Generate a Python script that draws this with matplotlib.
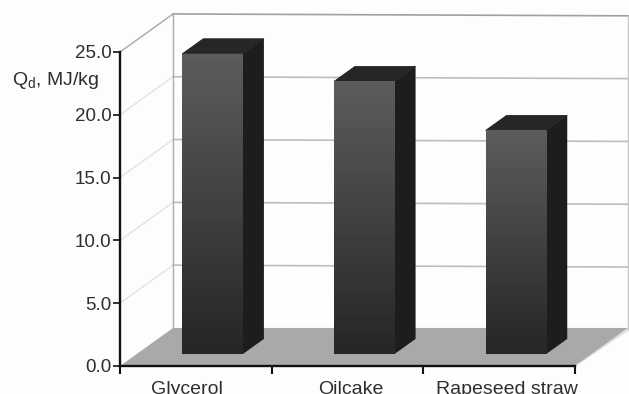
import numpy as np
import matplotlib
matplotlib.use("Agg")
import matplotlib.pyplot as plt
from matplotlib.patches import Polygon

# Values
categories = ["Glycerol", "Oilcake", "Rapeseed straw"]
values = [23.9, 21.7, 17.8]
y_ticks = [0, 5, 10, 15, 20, 25]
y_tick_labels = ["0.0", "5.0", "10.0", "15.0", "20.0", "25.0"]

# Fake 3D set-up, in data units
wall_dx = 0.35
wall_dy = 3.03
bar_shift = 0.316
bar_depth = 0.395
bar_width = 0.40
label_x = [0.44, 1.52, 2.55]

plt.rcParams['font.family'] = ['Liberation Sans', 'DejaVu Sans']
plt.rcParams['mathtext.fontset'] = 'custom'
plt.rcParams['mathtext.rm'] = 'Liberation Sans'

W, H = 629, 394
bg = "#fdfdfb"
txt = "#2e2e2e"
fig = plt.figure(figsize=(W / 100, H / 100), dpi=100, facecolor=bg)
ax = fig.add_axes([120 / W, 1 - 366 / H, 455 / W, 314 / H], facecolor="none")
ax.set_xlim(0, 3)
ax.set_ylim(0, 25)

# floor
floor = [(0, 0), (wall_dx, wall_dy), (3 + wall_dx, wall_dy), (3, 0)]
ax.add_patch(Polygon(floor, closed=True, fc="#a9a9a9", ec="none", clip_on=False, zorder=1))

# walls and grid
for v in y_ticks[1:]:
    top = v == y_ticks[-1]
    ax.plot([0, wall_dx], [v, v + wall_dy], color="#a8a8a8" if top else "#e2e2e2",
            lw=1.0, clip_on=False, zorder=1)
    ax.plot([wall_dx, 3 + wall_dx], [v + wall_dy, v + wall_dy - 0.15], color="#a0a0a0" if top else "#bdbdbd",
            lw=1.2, clip_on=False, zorder=1)
ax.plot([wall_dx, wall_dx], [wall_dy, 25 + wall_dy], color="#ababab", lw=1.0, clip_on=False, zorder=1)
ax.plot([3 + wall_dx, 3 + wall_dx], [wall_dy - 0.15, 25 + wall_dy - 0.15], color="#c4c4c4", lw=1.0,
        clip_on=False, zorder=1)
ax.plot([3, 3 + wall_dx], [0, wall_dy - 0.15], color="#d4d4d4", lw=0.8, clip_on=False, zorder=1)

# bars
gradient = np.linspace(0.36, 0.15, 64).reshape(-1, 1)
x_pos = np.arange(len(categories)) + 0.5 + wall_dx * bar_shift
base = wall_dy * bar_shift
dx = wall_dx * bar_depth
dy = wall_dy * bar_depth
for x, v in zip(x_pos, values):
    l, r = x - bar_width / 2, x + bar_width / 2
    bar = ax.bar(x, v, width=bar_width, bottom=base, color="#3a3a3a", zorder=3)[0]
    im = ax.imshow(gradient, extent=(l, r, base, base + v), aspect="auto", cmap="gray",
                   vmin=0, vmax=1, origin="upper", zorder=4)
    im.set_clip_path(bar)
    t = base + v
    ax.add_patch(Polygon([(r, base), (r + dx, base + dy), (r + dx, t + dy), (r, t)], closed=True,
                         fc="#1d1d1d", ec="none", clip_on=False, zorder=3))
    ax.add_patch(Polygon([(l, t), (l + dx, t + dy), (r + dx, t + dy), (r, t)], closed=True,
                         fc="#262626", ec="#1a1a1a", lw=0.5, clip_on=False, zorder=3))
ax.set_xlim(0, 3)
ax.set_ylim(0, 25)

# axes
for s in ["top", "right"]:
    ax.spines[s].set_visible(False)
for s in ["left", "bottom"]:
    ax.spines[s].set_linewidth(1.7)
    ax.spines[s].set_color("#111111")
    ax.spines[s].set_zorder(6)
ax.set_yticks(y_ticks)
ax.set_yticklabels(y_tick_labels, fontsize=13.5, color=txt)
ax.tick_params(axis="y", length=5, width=1.2, color="#111111", pad=1)
ax.set_xticks([0, 1, 2, 3])
ax.set_xticklabels([])
ax.tick_params(axis="x", length=6, width=1.5, color="#111111")

# labels sit on the bottom edge, cut off as in the scan
for x, name in zip(label_x, categories):
    ax.annotate(name, (x, 0), xytext=(0, -28), textcoords="offset pixels", ha="center", va="baseline",
                fontsize=14, color=txt, annotation_clip=False)

fig.text(12 / W, 1 - 85 / H, r"Q$_{\mathrm{d}}$, MJ/kg", fontsize=14, color=txt, ha="left", va="baseline")

fig.savefig("out.png", dpi=100, facecolor=bg)
